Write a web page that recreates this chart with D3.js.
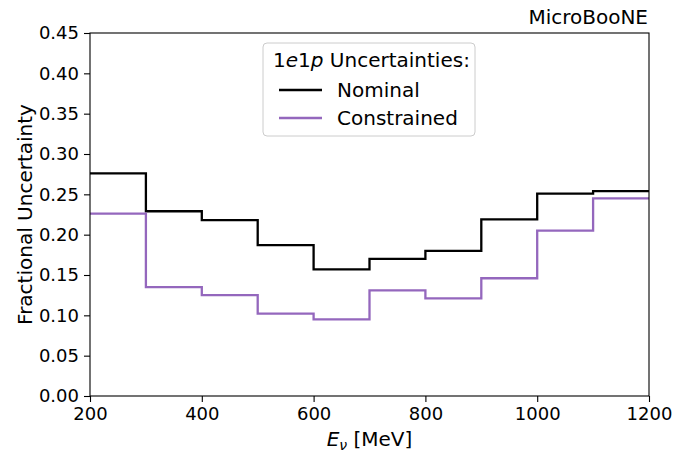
<!DOCTYPE html>
<html>
<head>
<meta charset="utf-8">
<script src="https://d3js.org/d3.v7.min.js"></script>
<style>
  body { margin:0; background:#fff; }
  text { font-family: "DejaVu Sans", sans-serif; fill:#000; }
</style>
</head>
<body>
<svg id="viz-svg" width="686" height="452"></svg>
<script>
// bin edges (MeV) and fractional uncertainty per bin
var binEdges = [200,300,400,500,600,700,800,900,1000,1100,1200]
  , nominal = [0.276,0.229,0.218,0.187,0.157,0.170,0.180,0.219,0.251,0.254]
  , constrained = [0.226,0.135,0.125,0.102,0.095,0.131,0.121,0.146,0.205,0.245]
  , xTicks = [200,400,600,800,1000,1200]
  , yTicks = [0,0.05,0.10,0.15,0.20,0.25,0.30,0.35,0.40,0.45]
  , seriesNames = ["Nominal","Constrained"]
  , seriesColors = ["#000000","#9467bd"]
  ;

var svg = d3.select("#viz-svg")
  , margins = {left:90, right:649, top:33, bottom:396}
  , xScale = d3.scaleLinear().domain([200,1200]).range([margins.left,margins.right])
  , yScale = d3.scaleLinear().domain([0,0.45]).range([margins.bottom,margins.top])
  ;

// step histogram: repeat the last value so the final bin reaches the edge
function stepPoints(vals){
  return binEdges.map(function(e,i){
    return [e, vals[Math.min(i,vals.length-1)]];
  });
}
var line = d3.line()
  .x(function(d){ return xScale(d[0]); })
  .y(function(d){ return yScale(d[1]); })
  .curve(d3.curveStepAfter);

[nominal,constrained].forEach(function(vals,i){
  svg.append("path")
    .datum(stepPoints(vals))
    .attr("fill","none")
    .attr("stroke",seriesColors[i])
    .attr("stroke-width",2.3)
    .attr("d",line);
});

// axes
var xAxis = svg.append("g")
  .attr("transform","translate(0,"+margins.bottom+")")
  .call(d3.axisBottom(xScale).tickValues(xTicks).tickSize(6).tickPadding(5).tickFormat(d3.format("d")));
var yAxis = svg.append("g")
  .attr("transform","translate("+margins.left+",0)")
  .call(d3.axisLeft(yScale).tickValues(yTicks).tickSize(6).tickPadding(5).tickFormat(d3.format(".2f")));

[xAxis,yAxis].forEach(function(a){
  a.select(".domain").remove();
  a.selectAll(".tick line").attr("stroke","#000").attr("stroke-width",1.1);
  a.selectAll(".tick text")
    .style("font-family","DejaVu Sans")
    .style("font-size","18px")
    .attr("fill","#000");
});

// frame
svg.append("rect")
  .attr("x",margins.left)
  .attr("y",margins.top)
  .attr("width",margins.right-margins.left)
  .attr("height",margins.bottom-margins.top)
  .attr("fill","none")
  .attr("stroke","#000")
  .attr("stroke-width",1.1);

// labels
svg.append("text")
  .attr("transform","translate(32,"+((margins.top+margins.bottom)/2)+") rotate(-90)")
  .attr("text-anchor","middle")
  .style("font-size","20px")
  .text("Fractional Uncertainty");

var xLab = svg.append("text")
  .attr("x",(margins.left+margins.right)/2)
  .attr("y",446)
  .attr("text-anchor","middle")
  .style("font-size","20px");
xLab.append("tspan").style("font-style","italic").text("E");
xLab.append("tspan").style("font-style","italic").style("font-size","14px").attr("dy",4).text("\u03bd");
xLab.append("tspan").attr("dy",-4).text(" [MeV]");

svg.append("text")
  .attr("x",margins.right-1)
  .attr("y",24)
  .attr("text-anchor","end")
  .style("font-size","20px")
  .text("MicroBooNE");

// legend
var legend = svg.append("g").attr("id","legend");
legend.append("rect")
  .attr("x",263).attr("y",43)
  .attr("width",212).attr("height",93)
  .attr("rx",4)
  .attr("fill","#fff").attr("fill-opacity",0.8)
  .attr("stroke","#cccccc").attr("stroke-width",1);

var title = legend.append("text")
  .attr("x",273).attr("y",67)
  .style("font-size","20px");
title.append("tspan").text("1");
title.append("tspan").style("font-style","italic").text("e");
title.append("tspan").text("1");
title.append("tspan").style("font-style","italic").text("p");
title.append("tspan").text(" Uncertainties:");

seriesNames.forEach(function(name,i){
  var yy = 90 + i*28;
  legend.append("line")
    .attr("x1",279).attr("x2",322)
    .attr("y1",yy).attr("y2",yy)
    .attr("stroke",seriesColors[i])
    .attr("stroke-width",2.3);
  legend.append("text")
    .attr("x",337).attr("y",yy+7)
    .style("font-size","20px")
    .text(name);
});
</script>
</body>
</html>
